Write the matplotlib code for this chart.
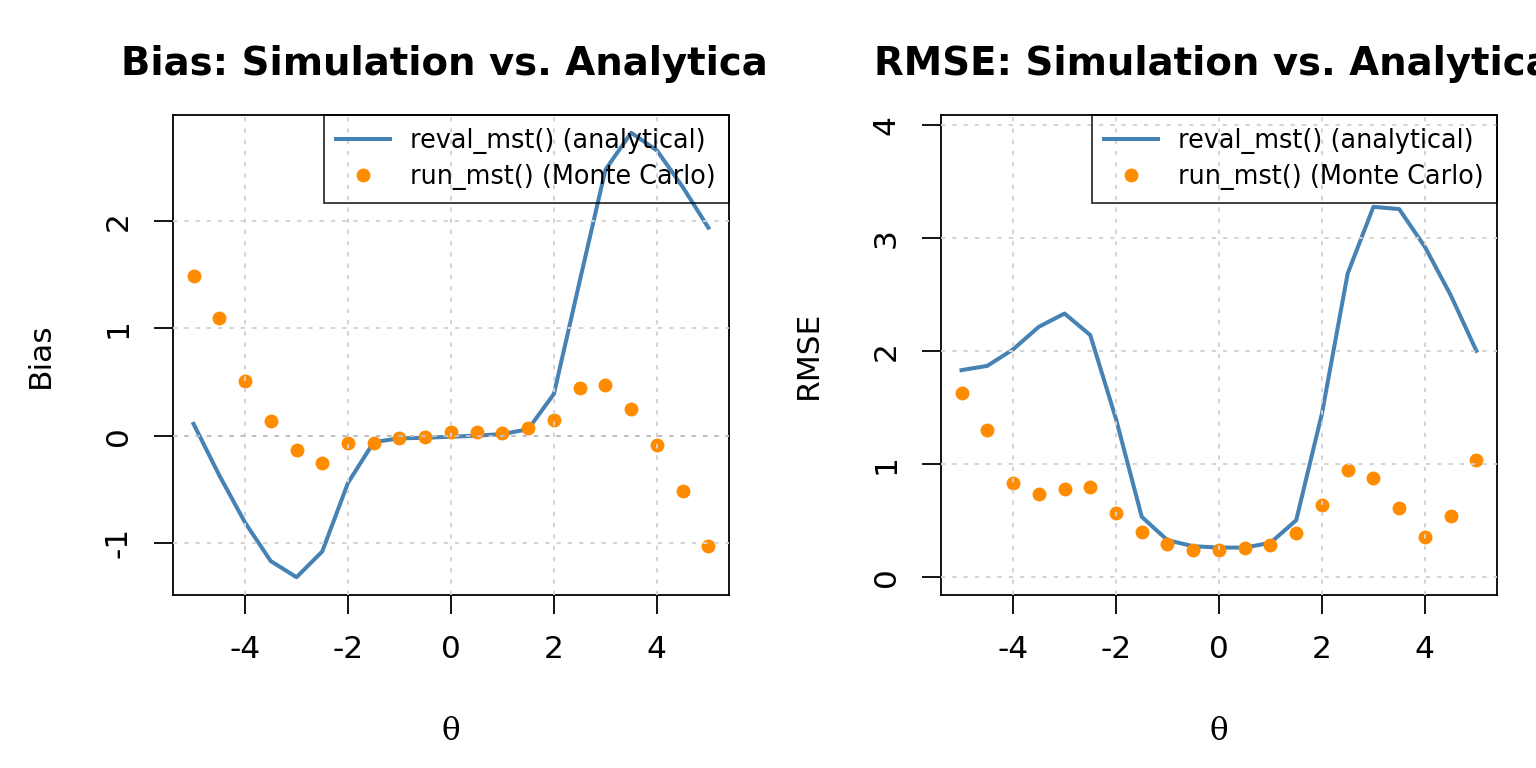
import matplotlib
matplotlib.use("Agg")
import matplotlib.pyplot as plt
from matplotlib.transforms import Bbox, TransformedBbox

theta = [-5, -4.5, -4, -3.5, -3, -2.5, -2, -1.5, -1, -0.5, 0,
         0.5, 1, 1.5, 2, 2.5, 3, 3.5, 4, 4.5, 5]

bias_analytic = [0.11, -0.37, -0.81, -1.17, -1.32, -1.08, -0.44, -0.06, -0.025, -0.02, -0.01,
                 0.0, 0.015, 0.06, 0.39, 1.44, 2.48, 2.825, 2.66, 2.32, 1.94]
bias_mc = [1.486, 1.10, 0.508, 0.134, -0.134, -0.252, -0.072, -0.065, -0.022, -0.009, 0.031,
           0.031, 0.022, 0.072, 0.15, 0.442, 0.477, 0.249, -0.087, -0.52, -1.028]

rmse_analytic = [1.832, 1.87, 2.015, 2.215, 2.333, 2.142, 1.40, 0.534, 0.327, 0.274, 0.262,
                 0.262, 0.304, 0.504, 1.448, 2.687, 3.277, 3.257, 2.923, 2.496, 2.003]
rmse_mc = [1.634, 1.298, 0.835, 0.735, 0.779, 0.80, 0.569, 0.401, 0.292, 0.245, 0.239,
           0.254, 0.283, 0.392, 0.637, 0.947, 0.882, 0.608, 0.357, 0.543, 1.035]

xticks = [-4, -2, 0, 2, 4]
bias_yticks = [-1, 0, 1, 2]
rmse_yticks = [0, 1, 2, 3, 4]

label_analytic = "reval_mst() (analytical)"
label_mc = "run_mst() (Monte Carlo)"

plt.rcParams['font.family'] = ['DejaVu Sans']
plt.rcParams['axes.unicode_minus'] = False

BLUE = "#4682B4"
ORANGE = "#FF8C00"
GRID = "#D3D3D3"

fig = plt.figure(figsize=(15.36, 7.68), dpi=100)
ax1 = fig.add_axes([0.1126, 0.2253, 0.3620, 0.6250])
ax2 = fig.add_axes([0.6126, 0.2253, 0.3620, 0.6250])


def r_lim(lo, hi):
    r = hi - lo
    return lo - 0.04 * r, hi + 0.04 * r


def draw(ax, yan, ymc, yticks, ylabel, title, ylim, zero_line, clip_right):
    ax.plot(theta, yan, color=BLUE, lw=2.9, label=label_analytic, zorder=3)
    ax.plot(theta, ymc, linestyle='none', marker='o', ms=10, color=ORANGE,
            markeredgewidth=0, label=label_mc, zorder=4)
    ax.set_xlim(r_lim(min(theta), max(theta)))
    ax.set_ylim(ylim)
    ax.set_xticks(xticks)
    ax.set_yticks(yticks)
    ax.set_xticklabels([str(v) for v in xticks])
    ax.set_yticklabels([str(v) for v in yticks])
    for v in xticks:
        ax.axvline(v, color=GRID, lw=1.4, dashes=(2.2, 3.6), zorder=5)
    for v in yticks:
        ax.axhline(v, color=GRID, lw=1.4, dashes=(2.2, 3.6), zorder=5)
    if zero_line:
        ax.axhline(0, color="#BEBEBE", lw=1.4, dashes=(2.2, 3.6), zorder=5)
    for s in ax.spines.values():
        s.set_linewidth(1.3)
        s.set_color('black')
    ax.tick_params(axis='both', direction='out', length=14, width=1.3,
                   labelsize=22.5, pad=15, colors='black')
    for t in ax.get_yticklabels():
        t.set_rotation(90)
        t.set_va('center')
    ax.set_xlabel("θ", fontsize=22.5, family='DejaVu Serif')
    ax.xaxis.set_label_coords(0.5, -0.285)
    ax.xaxis.label.set_va('center')
    ax.set_ylabel(ylabel, fontsize=22.5)
    ax.yaxis.set_label_coords(-0.239, 0.5)
    ax.yaxis.label.set_va('center')
    ax.yaxis.label.set_ha('center')
    t = ax.set_title(title, fontsize=27.8, fontweight='bold', pad=29)
    if clip_right is not None:
        t.set_clip_box(TransformedBbox(Bbox([[0, 0], [clip_right, 1]]), fig.transFigure))
        t.set_clip_on(True)
    leg = ax.legend(loc='upper right', borderaxespad=0, fontsize=18.4, frameon=True,
                    fancybox=False, handlelength=2.1, handletextpad=0.8,
                    borderpad=0.5, labelspacing=0.4)
    fr = leg.get_frame()
    fr.set_edgecolor('black')
    fr.set_facecolor('none')
    fr.set_linewidth(1.3)
    leg.set_zorder(6)


lo = min(min(bias_analytic), min(bias_mc))
hi = max(max(bias_analytic), max(bias_mc))
draw(ax1, bias_analytic, bias_mc, bias_yticks, "Bias",
     "Bias: Simulation vs. Analytical", r_lim(lo, hi), True, 0.5)

hi2 = 1.2 * max(max(rmse_analytic), max(rmse_mc))
draw(ax2, rmse_analytic, rmse_mc, rmse_yticks, "RMSE",
     "RMSE: Simulation vs. Analytical", r_lim(0, hi2), False, None)

fig.savefig("out.png", dpi=100)
